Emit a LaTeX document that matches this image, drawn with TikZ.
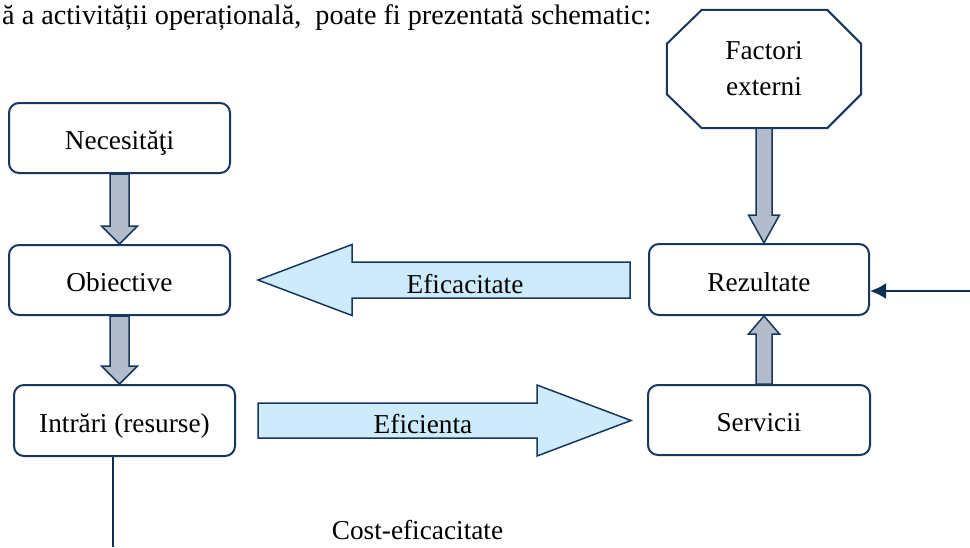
\documentclass[tikz,border=0pt]{standalone}
\usepackage{fontspec}
\setmainfont{Liberation Serif}
\usetikzlibrary{calc,arrows.meta}
\definecolor{navy}{HTML}{17375E}
\definecolor{grayfill}{HTML}{B2BCCB}
\definecolor{bluefill}{HTML}{CDEBFB}
\definecolor{linecol}{HTML}{0F2F57}
\newcommand{\vblock}[5]{%
  \draw[grayarr] ($(#1)+(-#3,0)$) -- ($(#2)+(-#3,#5)$) -- ($(#2)+(-#4,#5)$) -- (#2)
    -- ($(#2)+(#4,#5)$) -- ($(#2)+(#3,#5)$) -- ($(#1)+(#3,0)$) -- cycle;}
\newcommand{\hblock}[5]{%
  \draw[bluearr] ($(#1)+(0,-#3)$) -- ($(#2)+(#5,-#3)$) -- ($(#2)+(#5,-#4)$) -- (#2)
    -- ($(#2)+(#5,#4)$) -- ($(#2)+(#5,#3)$) -- ($(#1)+(0,#3)$) -- cycle;}
\begin{document}
\begin{tikzpicture}[x=1pt,y=-1pt,
  font=\fontsize{27.3}{36}\selectfont,
  box/.style={draw=navy, line width=2pt, rounded corners=10pt, minimum width=221pt,
    minimum height=70pt, inner sep=0pt, fill=white, text height=25pt, text depth=2pt},
  grayarr/.style={draw=navy, line width=1.5pt, fill=grayfill, line join=miter},
  bluearr/.style={draw=navy, line width=1.5pt, fill=bluefill, line join=miter},
  lbl/.style={inner sep=0pt}]
\useasboundingbox (0,0) rectangle (970,547);

\node[lbl, anchor=base west, font=\fontsize{28.2}{34}\selectfont] (top) at (2,24) {ă a activității operațională, \ poate fi prezentată schematic:};

\node[box] (nec) at (119.5,138) {Necesităţi};
\node[box] (obi) at (119.5,280) {Obiective};
\node[box, minimum height=71pt] (intr) at (124.5,420.5) {Intrări (resurse)};
\node[box, minimum width=220pt, minimum height=71pt] (rez) at (759,279.5) {Rezultate};
\node[box, minimum width=222pt] (serv) at (759,420) {Servicii};
\node[lbl, minimum width=194pt, minimum height=118pt, align=center] (fact) at (764,69) {Factori\\externi};

\draw[navy, line width=2pt, line join=miter]
  ($(fact.north west)+(35,0)$) -- ($(fact.north east)+(-34,0)$) -- ($(fact.north east)+(0,34)$)
  -- ($(fact.south east)+(0,-34)$) -- ($(fact.south east)+(-34,0)$) -- ($(fact.south west)+(35,0)$)
  -- ($(fact.south west)+(0,-34)$) -- ($(fact.north west)+(0,34)$) -- cycle;

% gray block arrows
\vblock{nec.south}{obi.north}{9.5}{18}{-18}
\coordinate (t2) at (obi.south |- intr.north);
\vblock{obi.south}{t2}{9.5}{18}{-18}
\coordinate (t3) at (fact.south |- rez.north);
\vblock{fact.south}{t3}{8}{15.5}{-28}
\coordinate (s4) at (fact.south |- serv.north);
\coordinate (t4) at (fact.south |- rez.south);
\vblock{s4}{t4}{8}{15.5}{18}

% blue block arrows
\coordinate (e1a) at (rez.west |- obi.east);
\coordinate (e1) at ($(e1a)+(-18,0)$);
\coordinate (e2) at ($(obi.east)+(27,0)$);
\hblock{e1}{e2}{18}{35.5}{94}
\coordinate (f1) at ($(intr.east)+(22,0)$);
\coordinate (f2a) at (serv.west |- f1);
\coordinate (f2) at ($(f2a)+(-16,0)$);
\hblock{f1}{f2}{17.5}{35.5}{-94}

\node[lbl, anchor=base] (efc) at (465,293) {Eficacitate};
\node[lbl, anchor=base] (efi) at (423,433) {Eficienta};

% connectors
\coordinate (inR) at (970,291);
\draw[linecol, line width=2.2pt, -{Latex[length=16pt,width=16pt]}] (inR) -- (rez.east |- inR);
\coordinate (cbot) at (113,547);
\draw[linecol, line width=1.3pt] (intr.south -| cbot) -- (cbot);
\node[lbl, anchor=base] (cost) at (417.5,539) {Cost-eficacitate};
\end{tikzpicture}
\end{document}
